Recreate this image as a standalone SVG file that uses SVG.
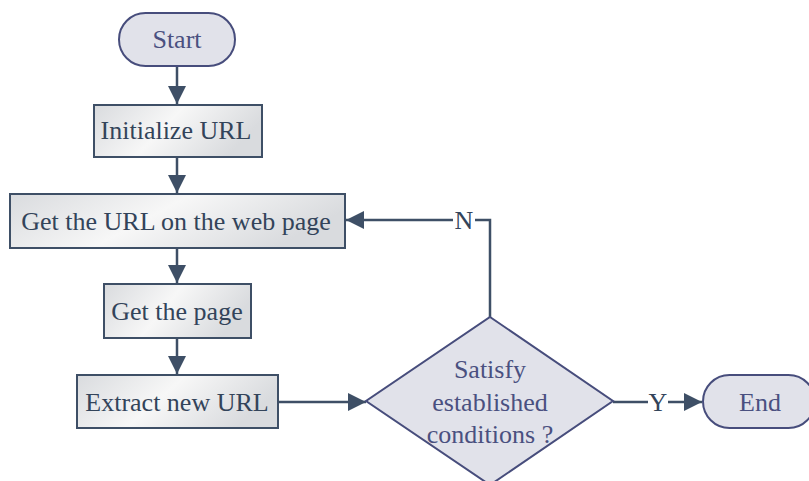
<svg xmlns="http://www.w3.org/2000/svg" width="809" height="481" viewBox="0 0 809 481">
<style>
.box{fill:url(#g);stroke:#3e4f66;stroke-width:2}
.term{fill:#e1e2ea;stroke:#474d7c;stroke-width:2}
text{font-family:'Liberation Serif','Times New Roman',Times,serif;font-size:26px;text-anchor:middle}
.tb{fill:#33445a}
.tp{fill:#4a5080}
.c{fill:none;stroke:#3e4f66;stroke-width:2.5}
</style>
<defs>
<linearGradient id="g" x1="0" y1="0" x2="1" y2="0.3">
<stop offset="0" stop-color="#d9dbde"/>
<stop offset="0.5" stop-color="#f7f7f7"/>
<stop offset="1" stop-color="#d9dbde"/>
</linearGradient>
<marker id="ah" viewBox="0 0 18 18" refX="18" refY="9" markerWidth="18" markerHeight="18" markerUnits="userSpaceOnUse" orient="auto">
<path d="M0,0 L18,9 L0,18 Z" fill="#3e4f66"/>
</marker>
</defs>
<g id="connectors">
<path class="c" d="M177,66 V104" marker-end="url(#ah)"/>
<path class="c" d="M177,157 V193" marker-end="url(#ah)"/>
<path class="c" d="M177,248 V283" marker-end="url(#ah)"/>
<path class="c" d="M177,338 V374" marker-end="url(#ah)"/>
<path class="c" d="M278,402 H366" marker-end="url(#ah)"/>
<path class="c" d="M490,317 V220 H475"/>
<path class="c" d="M453,220 H346" marker-end="url(#ah)"/>
<path class="c" d="M613,402 H648"/>
<path class="c" d="M668,402 H702" marker-end="url(#ah)"/>
<text class="tb" x="464" y="229">N</text>
<text class="tb" x="658" y="411">Y</text>
</g>
<g id="start">
<rect class="term" x="119" y="13" width="116" height="53" rx="26.5"/>
<text class="tp" x="177" y="48">Start</text>
</g>
<g id="init">
<rect class="box" x="94" y="105" width="168" height="52"/>
<text class="tb" x="176" y="139">Initialize URL</text>
</g>
<g id="geturl">
<rect class="box" x="10" y="194" width="335" height="54"/>
<text class="tb" x="176" y="230">Get the URL on the web page</text>
</g>
<g id="getpage">
<rect class="box" x="104" y="284" width="147" height="54"/>
<text class="tb" x="177" y="320">Get the page</text>
</g>
<g id="extract">
<rect class="box" x="77" y="375" width="201" height="53"/>
<text class="tb" x="177" y="411">Extract new URL</text>
</g>
<g id="decision">
<polygon class="term" points="490,317 613,401 490,485 366,401"/>
<text class="tp" x="490" y="378">Satisfy</text>
<text class="tp" x="490" y="411">established</text>
<text class="tp" x="490" y="443">conditions ?</text>
</g>
<g id="end">
<rect class="term" x="703" y="375" width="112" height="53" rx="26.5"/>
<text class="tp" x="760" y="411">End</text>
</g>
</svg>
